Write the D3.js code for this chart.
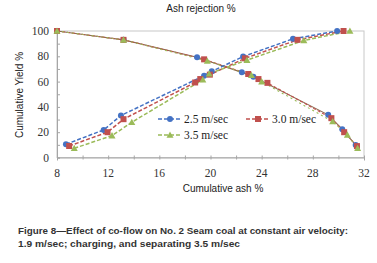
<!DOCTYPE html>
<html><head><meta charset="utf-8">
<script src="https://cdn.jsdelivr.net/npm/d3@7"></script>
<style>body{margin:0;background:#fff}svg{display:block}</style>
</head><body>
<svg id="c" width="377" height="263"></svg>
<script>
const seriesNames = ["2.5 m/sec", "3.0 m/sec", "3.5 m/sec"];
const seriesColors = ["#4472C4", "#C0504D", "#9BBB59"];
const seriesMarkers = ["circle", "square", "triangle"];
// Cumulative yield vs cumulative ash (rising curves)
const yield25 = [[8.7,10.5],[11.65,21.8],[13.0,33.2],[19.5,64.7],[20.1,68.1],[22.55,79.8],[26.45,93.8],[29.9,100]];
const yield30 = [[8.95,9.1],[11.95,20],[13.2,30.3],[18.8,59.3],[19.2,62],[19.95,65.5],[22.7,78.4],[26.8,93],[30.4,100]];
const yield35 = [[9.35,7.3],[12.3,17.3],[13.85,27.9],[19.4,61.5],[19.9,66.3],[22.85,77],[27.3,92.5],[30.9,100]];
// Ash rejection curves (falling)
const rej25 = [[8,100],[13.2,93],[18.95,79.2],[22.45,67.3],[23.35,63.9],[29.2,33.7],[30.3,22.4],[31.35,9.8]];
const rej30 = [[8,100],[13.2,93],[19.5,77.6],[22.95,66],[23.75,62],[24.45,59],[29.45,31.1],[30.45,20],[31.45,9]];
const rej35 = [[8,100],[13.2,93],[19.75,76.3],[23.2,65],[24.0,60],[29.55,28.4],[30.7,17.9],[31.5,7.3]];
const xTicks = [8,12,16,20,24,28,32];
const yTicks = [0,20,40,60,80,100];
const xTitle = "Cumulative ash %";
const yTitle = "Cumulative Yield %";
const topTitle = "Ash rejection %";
const caption = ["Figure 8\u2014Effect of co-flow on No. 2 Seam coal at constant air velocity:",
                 "1.9 m/sec; charging, and separating 3.5 m/sec"];

const SERIF = "'Liberation Serif', 'Times New Roman', serif";
const SANS = "'Liberation Sans', Arial, sans-serif";
const svg = d3.select("#c");
const x = d3.scaleLinear().domain([8,32]).range([57,364]);
const y = d3.scaleLinear().domain([0,100]).range([157.5,31]);
const axisCol = "#a6a6a6";

// frame
svg.append("rect").attr("x",x(8)).attr("y",y(100)).attr("width",x(32)-x(8)).attr("height",y(0)-y(100))
  .attr("fill","none").attr("stroke","#c8c8c8").attr("stroke-width",1);

// x axis
const xa = svg.append("g").attr("transform",`translate(0,${y(0)})`)
  .call(d3.axisBottom(x).tickValues(d3.range(8,33,2)).tickSize(3).tickFormat(""));
xa.select(".domain").attr("stroke",axisCol);
xa.selectAll(".tick line").attr("stroke",axisCol).attr("y1",-2).attr("y2",2);
svg.append("g").selectAll("text").data(xTicks).join("text")
  .attr("x",d=>x(d)).attr("y",177).attr("text-anchor","middle")
  .style("font-family",SERIF).attr("font-size",11.5).attr("fill","#333").text(d=>d);

// y axis
const ya = svg.append("g").attr("transform",`translate(${x(8)},0)`)
  .call(d3.axisLeft(y).tickValues(d3.range(0,101,10)).tickSize(-3).tickFormat(""));
ya.select(".domain").attr("stroke",axisCol);
ya.selectAll(".tick line").attr("stroke",axisCol);
svg.append("g").selectAll("text").data(yTicks).join("text")
  .attr("x",49).attr("y",d=>y(d)+4).attr("text-anchor","end")
  .style("font-family",SERIF).attr("font-size",11.5).attr("fill","#333").text(d=>d);

// titles
svg.append("text").attr("x",223).attr("y",192).attr("text-anchor","middle")
  .style("font-family",SANS).attr("font-size",10).attr("fill","#222").text(xTitle);
svg.append("text").attr("x",201).attr("y",12).attr("text-anchor","middle")
  .style("font-family",SANS).attr("font-size",10).attr("fill","#222").text(topTitle);
svg.append("text").attr("transform","translate(23,95) rotate(-90)").attr("text-anchor","middle")
  .style("font-family",SANS).attr("font-size",10).attr("fill","#222").text(yTitle);

const line = d3.line().x(d=>x(d[0])).y(d=>y(d[1]));
const rising = [yield25, yield30, yield35];
const falling = [rej25, rej30, rej35];

function marker(g, type, cx, cy, col){
  if(type==="circle") g.append("circle").attr("cx",cx).attr("cy",cy).attr("r",3).attr("fill",col);
  else if(type==="square") g.append("rect").attr("x",cx-3).attr("y",cy-3).attr("width",6).attr("height",6).attr("fill",col);
  else g.append("path").attr("d",`M${cx},${cy-3.5}L${cx+3.5},${cy+2.8}L${cx-3.5},${cy+2.8}Z`).attr("fill",col);
}

// falling lines (overlapping, appear brownish)
const fallDash = [null, "3,2", "2,3"];
const fallColors = ["#8a6a50", "#C0504D", "#9BBB59"];
falling.forEach((data,i)=>{
  svg.append("path").datum(data).attr("d",line).attr("fill","none")
    .attr("stroke",fallColors[i]).attr("stroke-width",1.1)
    .attr("stroke-dasharray",fallDash[i]);
});
// rising lines dashed
rising.forEach((data,i)=>{
  svg.append("path").datum(data).attr("d",line).attr("fill","none")
    .attr("stroke",seriesColors[i]).attr("stroke-width",1.5).attr("stroke-dasharray","4,2");
});
// markers
[falling, rising].forEach(set=>set.forEach((data,i)=>{
  const g = svg.append("g");
  data.forEach(d=>marker(g, seriesMarkers[i], x(d[0]), y(d[1]), seriesColors[i]));
}));

// legend
const legendPos = [[158,119],[246,119],[158,135]];
seriesNames.forEach((name,i)=>{
  const [lx,ly] = legendPos[i];
  const g = svg.append("g");
  g.append("line").attr("x1",lx).attr("x2",lx+24).attr("y1",ly).attr("y2",ly)
    .attr("stroke",seriesColors[i]).attr("stroke-width",1.5).attr("stroke-dasharray","4,2");
  marker(g, seriesMarkers[i], lx+12, ly, seriesColors[i]);
  g.append("text").attr("x",lx+26).attr("y",ly+4)
    .style("font-family",SERIF).attr("font-size",11.5).attr("fill","#222").text(name);
});

// caption
caption.forEach((t,i)=>{
  const tx = svg.append("text").attr("x",18).attr("y",234+i*12.5)
    .style("font-family",SANS).attr("font-weight","bold")
    .attr("font-size",9.5).attr("fill","#333").text(t);
  tx.attr("textLength", i===0 ? 330 : 222).attr("lengthAdjust","spacingAndGlyphs");
});
</script>
</body></html>
